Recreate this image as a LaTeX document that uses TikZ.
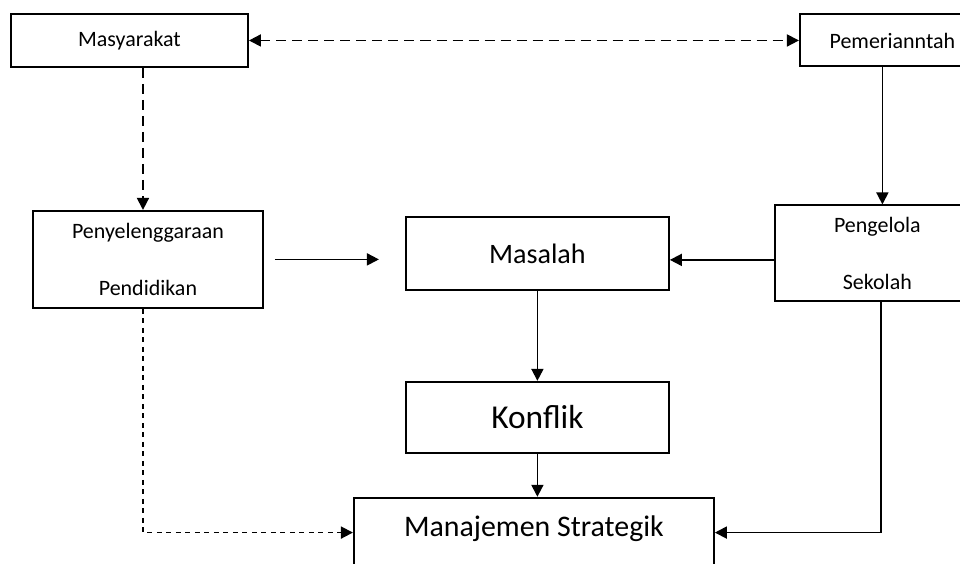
\documentclass[tikz,border=0pt]{standalone}
\usepackage{fontspec}
\setmainfont{Carlito}
\usetikzlibrary{arrows.meta,positioning}

\begin{document}
\begin{tikzpicture}[
    node distance=1cm,
    >={Triangle[length=2.4mm,width=2.4mm]},
    box/.style={draw, line width=1.1pt, align=center, inner sep=0pt},
    small/.style={font=\fontsize{12.5}{15}\selectfont},
    link/.style={->, line width=1pt},
    dashlong/.style={link, dash pattern=on 2mm off 1.2mm},
    dashshort/.style={link, dash pattern=on 1mm off 0.9mm}
]
\useasboundingbox (0,0) rectangle (19.2,-11.26);
\clip (0,0) rectangle (19.2,-11.26);
\node[box, small, minimum width=4.74cm, minimum height=1.06cm, anchor=north west] (msy) at (0.2,-0.26) {Masyarakat};
\node[box, small, right=11cm of msy, minimum width=3.7cm, minimum height=1.04cm] (pem) {Pemerianntah};
\node[box, small, below=2.84cm of msy, xshift=0.37cm, minimum width=4.6cm, minimum height=1.94cm] (pyl) {Penyelenggaraan\\[0.61cm]Pendidikan};
\node[box, right=2.82cm of pyl, yshift=0.12cm, minimum width=5.26cm, minimum height=1.46cm, font=\fontsize{16}{19}\selectfont] (msl) {Masalah};
\node[box, below=1.8cm of msl, minimum width=5.26cm, minimum height=1.42cm, font=\fontsize{19}{23}\selectfont] (knf) {Konflik};
\node[box, below=0.86cm of knf, xshift=-0.07cm, minimum width=7.2cm, text height=0.78cm, text depth=1.5cm, font=\fontsize{17}{20}\selectfont] (mnj) {Manajemen Strategik};
\node[box, small, right=2.08cm of msl, minimum width=4.1cm, minimum height=1.92cm] (pgl) {Pengelola\\[0.61cm]Sekolah};
% garis putus-putus
\draw[dashlong, <->] (msy.east) -- (msy.east -| pem.west);
\draw[dashlong] ([xshift=-1mm]pyl.north |- msy.south) -- ([xshift=-1mm]pyl.north);
\draw[dashshort] ([xshift=-1mm]pyl.south) |- (mnj.mid west);
% garis tegas
\draw[link] ([xshift=2.2mm]pyl.east) -- ([xshift=-5.2mm]pyl.east -| msl.west);
\draw[link] ([yshift=-1.3mm]pgl.west) -- ([yshift=-1.3mm]pgl.west -| msl.east);
\draw[link] ([xshift=-2mm]pem.south) -- ([xshift=-2mm]pem.south |- pgl.north);
\draw[link] (msl) -- (knf);
\draw[link] (knf.south) -- (knf.south |- mnj.north);
\draw[link] ([xshift=0.7mm]pgl.south) |- (mnj.mid east);
\end{tikzpicture}
\end{document}
